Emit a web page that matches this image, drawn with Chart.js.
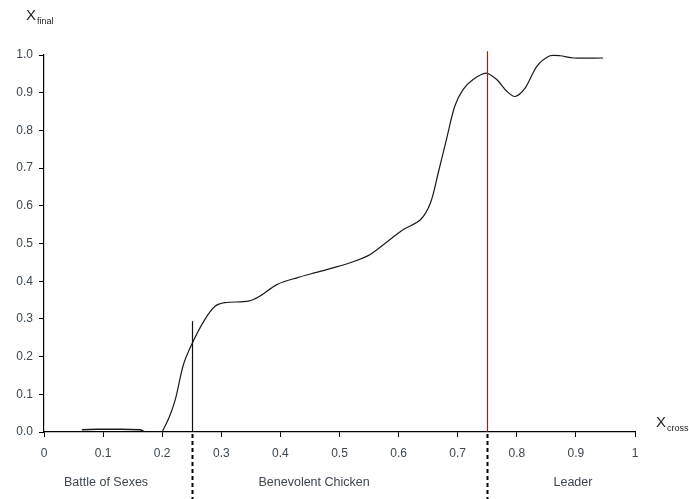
<!DOCTYPE html>
<html>
<head>
<meta charset="utf-8">
<script src="https://cdn.jsdelivr.net/npm/chart.js@4"></script>
<style>
  html, body { margin: 0; padding: 0; background: #fff; }
  #wrap { width: 689px; height: 499px; }
</style>
</head>
<body>
<div id="wrap"><canvas id="grafico" width="689" height="499"></canvas></div>
<script>
// Datos
const xCross = [0.2, 0.212, 0.222, 0.236, 0.251, 0.272, 0.289, 0.306, 0.346, 0.365, 0.394, 0.428, 0.467, 0.518,
  0.552, 0.585, 0.608, 0.637, 0.654, 0.667, 0.681, 0.695, 0.709, 0.726, 0.748, 0.766, 0.783, 0.797, 0.814,
  0.834, 0.856, 0.873, 0.896, 0.946];
const xFinal = [0.0, 0.04, 0.085, 0.179, 0.236, 0.298, 0.333, 0.343, 0.347, 0.36, 0.391, 0.409, 0.426, 0.449,
  0.471, 0.51, 0.537, 0.563, 0.608, 0.687, 0.776, 0.864, 0.908, 0.935, 0.952, 0.935, 0.904, 0.89, 0.912,
  0.97, 0.998, 0.998, 0.992, 0.992];

// pequeño tramo inicial
const xCrossIni = [0.064, 0.09, 0.13, 0.163, 0.17];
const xFinalIni = [0.006, 0.007, 0.007, 0.006, 0.001];

const ticksX = [0, 0.1, 0.2, 0.3, 0.4, 0.5, 0.6, 0.7, 0.8, 0.9, 1];
const ticksY = [0, 0.1, 0.2, 0.3, 0.4, 0.5, 0.6, 0.7, 0.8, 0.9, 1.0];

// Fronteras entre regiones: x, altura de la linea, color
const fronteras = [0.25, 0.75];
const alturaFrontera = [0.294, 1.01];
const colorFrontera = ['#111111', '#8a2818'];

const regiones = ['Battle of Sexes', 'Benevolent Chicken', 'Leader'];
const centroRegion = [0.105, 0.457, 0.895];

const fuente = '"Liberation Sans", Arial, sans-serif';
const colorTexto = '#3b4650';

// Plugin para fronteras, etiquetas de region y titulos de ejes
const extras = {
  id: 'extras',
  afterDatasetsDraw(chart) {
    const { ctx, scales: { x, y } } = chart;
    const y0 = y.getPixelForValue(0);
    ctx.save();
    fronteras.forEach((f, i) => {
      const px = Math.round(x.getPixelForValue(f)) + 0.5;
      ctx.strokeStyle = colorFrontera[i];
      ctx.lineWidth = 1.2;
      ctx.setLineDash([]);
      ctx.beginPath();
      ctx.moveTo(px, y0);
      ctx.lineTo(px, y.getPixelForValue(alturaFrontera[i]));
      ctx.stroke();
      // parte discontinua debajo del eje
      ctx.strokeStyle = '#000';
      ctx.lineWidth = 2;
      ctx.setLineDash([4, 3]);
      ctx.beginPath();
      ctx.moveTo(px, y0 + 2);
      ctx.lineTo(px, chart.height);
      ctx.stroke();
    });
    ctx.setLineDash([]);

    ctx.fillStyle = colorTexto;
    ctx.font = '12.5px ' + fuente;
    ctx.textAlign = 'center';
    ctx.textBaseline = 'middle';
    regiones.forEach((r, i) => {
      ctx.fillText(r, x.getPixelForValue(centroRegion[i]), 483);
    });

    // titulos de ejes
    ctx.fillStyle = '#222';
    ctx.textAlign = 'left';
    ctx.textBaseline = 'alphabetic';
    ctx.font = '15px ' + fuente;
    ctx.fillText('X', 26, 20);
    ctx.font = '9px ' + fuente;
    ctx.fillText('final', 37, 24);
    ctx.font = '15px ' + fuente;
    ctx.fillText('X', 656, 427);
    ctx.font = '9px ' + fuente;
    ctx.fillText('cross', 667, 431);
    ctx.restore();
  }
};

const ctx = document.getElementById('grafico').getContext('2d');
new Chart(ctx, {
  type: 'line',
  data: {
    datasets: [
      {
        data: xCross.map((v, i) => ({ x: v, y: xFinal[i] })),
        borderColor: '#1a1a1a',
        borderWidth: 1.2,
        pointRadius: 0,
        tension: 0.3,
        clip: false
      },
      {
        data: xCrossIni.map((v, i) => ({ x: v, y: xFinalIni[i] })),
        borderColor: '#1a1a1a',
        borderWidth: 1.5,
        pointRadius: 0,
        tension: 0,
        clip: false
      }
    ]
  },
  options: {
    responsive: false,
    animation: false,
    layout: { padding: { top: 55, right: 54, left: 0, bottom: 0 } },
    plugins: { legend: { display: false }, tooltip: { enabled: false } },
    scales: {
      x: {
        type: 'linear',
        min: 0,
        max: 1,
        afterBuildTicks: s => { s.ticks = ticksX.map(v => ({ value: v })); },
        afterFit: s => { s.height = 67; },
        grid: { drawOnChartArea: false, drawTicks: true, tickLength: 5, color: '#000', lineWidth: 1 },
        border: { display: true, color: '#000', width: 1.2 },
        ticks: {
          padding: 9,
          color: colorTexto,
          font: { size: 12, family: fuente },
          callback: v => (v === 0 || v === 1) ? String(v) : v.toFixed(1)
        }
      },
      y: {
        min: 0,
        max: 1,
        afterBuildTicks: s => { s.ticks = ticksY.map(v => ({ value: v })); },
        afterFit: s => { s.width = 44; },
        grid: { drawOnChartArea: false, drawTicks: true, tickLength: 5, color: '#000', lineWidth: 1 },
        border: { display: true, color: '#000', width: 1.2 },
        ticks: {
          padding: 6,
          color: colorTexto,
          font: { size: 12, family: fuente },
          callback: v => v.toFixed(1)
        }
      }
    }
  },
  plugins: [extras]
});
</script>
</body>
</html>
